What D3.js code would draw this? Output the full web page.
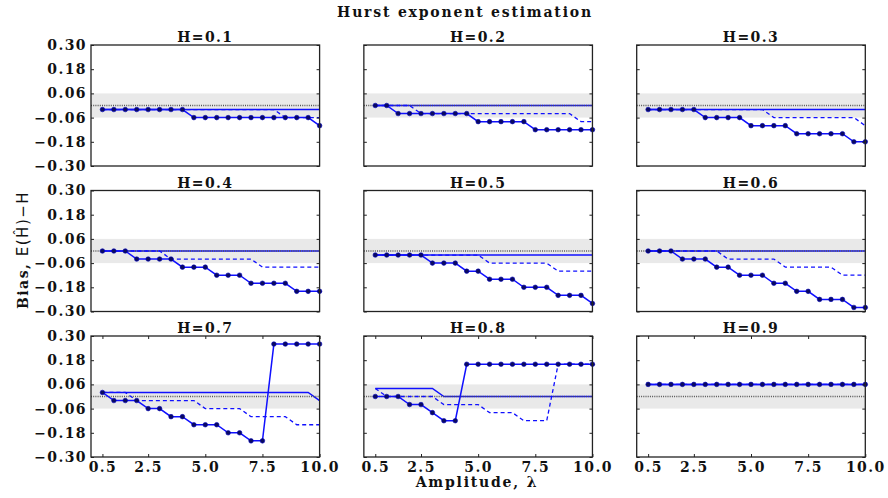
<!DOCTYPE html>
<html>
<head>
<meta charset="utf-8">
<script src="https://cdn.jsdelivr.net/npm/d3@7"></script>
<style>
body { margin: 0; background: #fff; }
text { font-family: "DejaVu Serif", serif; font-weight: bold; fill: #111; }
</style>
</head>
<body>
<div class="chart"></div>
<script>
const WIDTH = 888;
const HEIGHT = 498;
const LEFT = 91;
const TOP = 45;
const PANEL_W = 228.6;
const PANEL_H = 121;
const COL_STEP = 272.85;
const ROW_STEP = 145.5;

var amplitudes = [0.5, 1.0, 1.5, 2.0, 2.5, 3.0, 3.5, 4.0, 4.5, 5.0, 5.5, 6.0, 6.5, 7.0, 7.5, 8.0, 8.5, 9.0, 9.5, 10.0];
var hurstLabels = ['H=0.1', 'H=0.2', 'H=0.3', 'H=0.4', 'H=0.5', 'H=0.6', 'H=0.7', 'H=0.8', 'H=0.9'];
var yTicks = [0.30, 0.18, 0.06, -0.06, -0.18, -0.30];
var xTicks = [0.5, 2.5, 5.0, 7.5, 10.0];

// line with markers
var biasMarked = [
	[-0.02,-0.02,-0.02,-0.02,-0.02,-0.02,-0.02,-0.02,-0.06,-0.06,-0.06,-0.06,-0.06,-0.06,-0.06,-0.06,-0.06,-0.06,-0.06,-0.10],
	[0,0,-0.04,-0.04,-0.04,-0.04,-0.04,-0.04,-0.04,-0.08,-0.08,-0.08,-0.08,-0.08,-0.12,-0.12,-0.12,-0.12,-0.12,-0.12],
	[-0.02,-0.02,-0.02,-0.02,-0.02,-0.06,-0.06,-0.06,-0.06,-0.10,-0.10,-0.10,-0.10,-0.14,-0.14,-0.14,-0.14,-0.14,-0.18,-0.18],
	[0,0,0,-0.04,-0.04,-0.04,-0.04,-0.08,-0.08,-0.08,-0.12,-0.12,-0.12,-0.16,-0.16,-0.16,-0.16,-0.20,-0.20,-0.20],
	[-0.02,-0.02,-0.02,-0.02,-0.02,-0.06,-0.06,-0.06,-0.10,-0.10,-0.14,-0.14,-0.14,-0.18,-0.18,-0.18,-0.22,-0.22,-0.22,-0.26],
	[0,0,0,-0.04,-0.04,-0.04,-0.08,-0.08,-0.12,-0.12,-0.12,-0.16,-0.16,-0.20,-0.20,-0.24,-0.24,-0.24,-0.28,-0.28],
	[0.02,-0.02,-0.02,-0.02,-0.06,-0.06,-0.10,-0.10,-0.14,-0.14,-0.14,-0.18,-0.18,-0.22,-0.22,0.26,0.26,0.26,0.26,0.26],
	[0,0,0,-0.04,-0.04,-0.08,-0.12,-0.12,0.16,0.16,0.16,0.16,0.16,0.16,0.16,0.16,0.16,0.16,0.16,0.16],
	[0.06,0.06,0.06,0.06,0.06,0.06,0.06,0.06,0.06,0.06,0.06,0.06,0.06,0.06,0.06,0.06,0.06,0.06,0.06,0.06]
];

// dashed line
var biasDashed = [
	[-0.02,-0.02,-0.02,-0.02,-0.02,-0.02,-0.02,-0.02,-0.02,-0.02,-0.02,-0.02,-0.02,-0.02,-0.02,-0.02,-0.06,-0.06,-0.06,-0.06],
	[0,0,0,0,-0.04,-0.04,-0.04,-0.04,-0.04,-0.04,-0.04,-0.04,-0.04,-0.04,-0.04,-0.04,-0.04,-0.04,-0.08,-0.08],
	[-0.02,-0.02,-0.02,-0.02,-0.02,-0.02,-0.02,-0.02,-0.02,-0.02,-0.02,-0.06,-0.06,-0.06,-0.06,-0.06,-0.06,-0.06,-0.06,-0.10],
	[0,0,0,0,0,0,-0.04,-0.04,-0.04,-0.04,-0.04,-0.04,-0.04,-0.04,-0.08,-0.08,-0.08,-0.08,-0.08,-0.08],
	[-0.02,-0.02,-0.02,-0.02,-0.02,-0.02,-0.02,-0.02,-0.02,-0.02,-0.06,-0.06,-0.06,-0.06,-0.06,-0.06,-0.10,-0.10,-0.10,-0.10],
	[0,0,0,0,0,0,0,-0.04,-0.04,-0.04,-0.04,-0.04,-0.08,-0.08,-0.08,-0.08,-0.08,-0.12,-0.12,-0.12],
	[0.02,0.02,0.02,-0.02,-0.02,-0.02,-0.02,-0.02,-0.02,-0.06,-0.06,-0.06,-0.06,-0.10,-0.10,-0.10,-0.10,-0.14,-0.14,-0.14],
	[0.04,0,0,0,0,0,-0.04,-0.04,-0.04,-0.04,-0.08,-0.08,-0.08,-0.12,-0.12,-0.12,0.16,0.16,0.16,0.16],
	[0.06,0.06,0.06,0.06,0.06,0.06,0.06,0.06,0.06,0.06,0.06,0.06,0.06,0.06,0.06,0.06,0.06,0.06,0.06,0.06]
];

// plain solid line
var biasSolid = [
	[-0.02,-0.02,-0.02,-0.02,-0.02,-0.02,-0.02,-0.02,-0.02,-0.02,-0.02,-0.02,-0.02,-0.02,-0.02,-0.02,-0.02,-0.02,-0.02,-0.02],
	[0,0,0,0,0,0,0,0,0,0,0,0,0,0,0,0,0,0,0,0],
	[-0.02,-0.02,-0.02,-0.02,-0.02,-0.02,-0.02,-0.02,-0.02,-0.02,-0.02,-0.02,-0.02,-0.02,-0.02,-0.02,-0.02,-0.02,-0.02,-0.02],
	[0,0,0,0,0,0,0,0,0,0,0,0,0,0,0,0,0,0,0,0],
	[-0.02,-0.02,-0.02,-0.02,-0.02,-0.02,-0.02,-0.02,-0.02,-0.02,-0.02,-0.02,-0.02,-0.02,-0.02,-0.02,-0.02,-0.02,-0.02,-0.02],
	[0,0,0,0,0,0,0,0,0,0,0,0,0,0,0,0,0,0,0,0],
	[0.02,0.02,0.02,0.02,0.02,0.02,0.02,0.02,0.02,0.02,0.02,0.02,0.02,0.02,0.02,0.02,0.02,0.02,0.02,-0.02],
	[0.04,0.04,0.04,0.04,0.04,0.04,0,0,0,0,0,0,0,0,0,0,0,0,0,0],
	[0.06,0.06,0.06,0.06,0.06,0.06,0.06,0.06,0.06,0.06,0.06,0.06,0.06,0.06,0.06,0.06,0.06,0.06,0.06,0.06]
];

var translate = function (x, y) {
	return 'translate(' + x + ',' + y + ')';
};

var xScale = d3.scaleLinear().domain([0, 10]).range([0, PANEL_W]);
var yScale = d3.scaleLinear().domain([-0.3, 0.3]).range([PANEL_H, 0]);

var line = d3.line()
	.x(function (d, i) { return xScale(amplitudes[i]); })
	.y(function (d) { return yScale(d); });

var svg = d3.select('.chart').append('svg')
	.attr('width', WIDTH)
	.attr('height', HEIGHT);

svg.append('text')
	.attr('x', 465)
	.attr('y', 17)
	.attr('text-anchor', 'middle')
	.style('font-size', '14px')
	.style('letter-spacing', '1.8px')
	.text('Hurst exponent estimation');

var drawPanel = function (k) {
	var row = Math.floor(k / 3), col = k % 3;
	var g = svg.append('g')
		.attr('transform', translate(LEFT + col * COL_STEP, TOP + row * ROW_STEP));

	g.append('rect')
		.attr('x', 0).attr('width', PANEL_W)
		.attr('y', yScale(0.06)).attr('height', yScale(-0.06) - yScale(0.06))
		.attr('fill', '#e9e9e9');

	g.append('path')
		.attr('d', line(biasSolid[k]))
		.attr('fill', 'none')
		.attr('stroke', '#1010ff')
		.attr('stroke-width', 1.5);

	g.append('line')
		.attr('x1', 0).attr('x2', PANEL_W)
		.attr('y1', yScale(0)).attr('y2', yScale(0))
		.attr('stroke', '#555')
		.attr('stroke-width', 1.3)
		.attr('stroke-dasharray', '1,1.2');

	g.append('path')
		.attr('d', line(biasDashed[k]))
		.attr('fill', 'none')
		.attr('stroke', '#1010ff')
		.attr('stroke-width', 1.3)
		.attr('stroke-dasharray', '4,3');

	g.append('path')
		.attr('d', line(biasMarked[k]))
		.attr('fill', 'none')
		.attr('stroke', '#1010ff')
		.attr('stroke-width', 1.5);

	g.selectAll('circle').data(biasMarked[k])
		.enter().append('circle')
		.attr('cx', function (d, i) { return xScale(amplitudes[i]); })
		.attr('cy', function (d) { return yScale(d); })
		.attr('r', 2.3)
		.attr('fill', '#0a0a60')
		.attr('stroke', '#0000c0')
		.attr('stroke-width', 0.6);

	var yAxis = d3.axisLeft(yScale).tickValues(yTicks).tickSize(-3).tickPadding(4)
		.tickFormat(col === 0 ? d3.format('.2f') : '');
	var yAxisR = d3.axisRight(yScale).tickValues(yTicks).tickSize(-3).tickFormat('');
	g.append('g').attr('class', 'yaxis').call(yAxis);
	g.append('g').attr('class', 'yaxis').attr('transform', translate(PANEL_W, 0)).call(yAxisR);

	if (row === 2) {
		var xAxis = d3.axisBottom(xScale).tickValues(xTicks).tickSize(-3).tickPadding(5)
			.tickFormat(d3.format('.1f'));
		var xAxisT = d3.axisTop(xScale).tickValues(xTicks).tickSize(-3).tickFormat('');
		g.append('g').attr('class', 'xaxis').attr('transform', translate(0, PANEL_H)).call(xAxis);
		g.append('g').attr('class', 'xaxis').call(xAxisT);
	}

	g.selectAll('.domain').remove();
	g.selectAll('.tick line').attr('stroke', '#222');
	g.selectAll('.tick text')
		.style('font-family', '"DejaVu Serif", serif')
		.style('font-weight', 'bold')
		.style('font-size', '14px')
		.style('letter-spacing', '1.4px')
		.attr('fill', '#111');

	g.append('rect')
		.attr('width', PANEL_W)
		.attr('height', PANEL_H)
		.attr('fill', 'none')
		.attr('stroke', '#222')
		.attr('stroke-width', 1.3);

	g.append('text')
		.attr('x', PANEL_W / 2)
		.attr('y', -3)
		.attr('text-anchor', 'middle')
		.style('font-size', '14px')
		.style('letter-spacing', '1.4px')
		.text(hurstLabels[k]);
};

for (var k = 0; k < 9; k++) drawPanel(k);

var ylab = svg.append('text')
	.attr('transform', translate(28, 250) + ' rotate(-90)')
	.attr('text-anchor', 'middle')
	.style('font-size', '14px')
	.style('letter-spacing', '1.5px');
ylab.append('tspan').text('Bias,  ');
ylab.append('tspan')
	.style('font-family', '"DejaVu Sans", sans-serif')
	.style('font-weight', 'normal')
	.style('font-size', '15px')
	.text('E(H\u0302)\u2212H');

svg.append('text')
	.attr('x', 477)
	.attr('y', 487)
	.attr('text-anchor', 'middle')
	.style('font-size', '14px')
	.style('letter-spacing', '1.8px')
	.text('Amplitude, \u03bb');
</script>
</body>
</html>
